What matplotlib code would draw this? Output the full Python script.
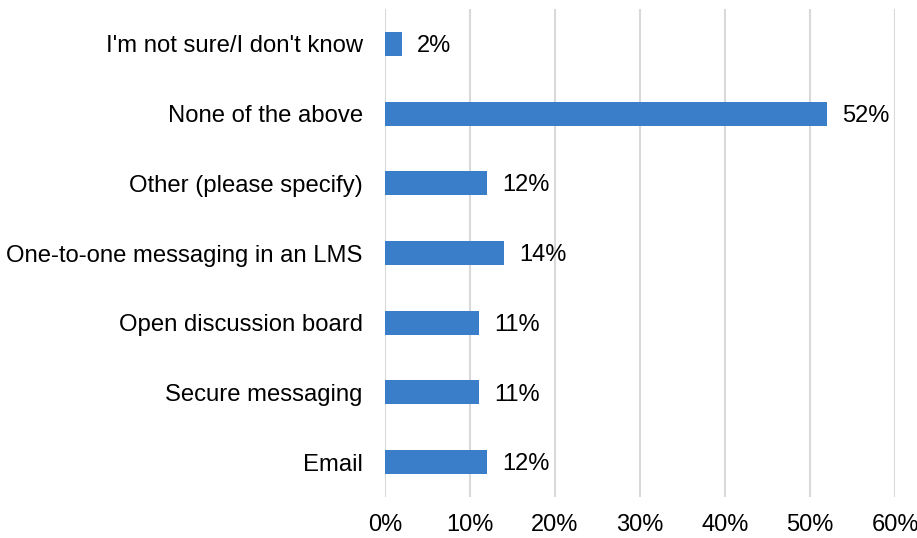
import matplotlib
matplotlib.use("Agg")
import matplotlib.pyplot as plt
from matplotlib.ticker import FuncFormatter

categories = [
    "Email",
    "Secure messaging",
    "Open discussion board",
    "One-to-one messaging in an LMS",
    "Other (please specify)",
    "None of the above",
    "I'm not sure/I don't know",
]
values = [12, 11, 11, 14, 12, 52, 2]
x_ticks = [0, 10, 20, 30, 40, 50, 60]

plt.rcParams["font.family"] = ["Liberation Sans", "DejaVu Sans"]

fig = plt.figure(figsize=(9.17, 5.38), dpi=100)
ax = fig.add_axes([385 / 917, 1 - 497 / 538, 510 / 917, 488 / 538])

ypos = list(range(len(categories)))
ax.barh(ypos, values, height=0.345, color="#3A7DC9", zorder=3)

for y, v in zip(ypos, values):
    ax.annotate(f"{v}%", xy=(v, y), xytext=(11, -1.5), textcoords="offset points",
                ha="left", va="center", fontsize=17, color="#000000")

ax.set_xlim(0, 60)
ax.set_ylim(-0.5, len(categories) - 0.5)
ax.set_xticks(x_ticks)
ax.xaxis.set_major_formatter(FuncFormatter(lambda v, p: f"{v:.0f}%"))
ax.set_yticks(ypos)
ax.set_yticklabels(categories)

ax.grid(axis="x", color="#D9D9D9", linewidth=1.5, zorder=0)
for s in ax.spines.values():
    s.set_visible(False)
ax.tick_params(axis="x", length=0, pad=12, labelsize=17, colors="#000000")
ax.tick_params(axis="y", length=0, pad=16, labelsize=17.2, colors="#000000")

fig.savefig("out.png", dpi=100)
